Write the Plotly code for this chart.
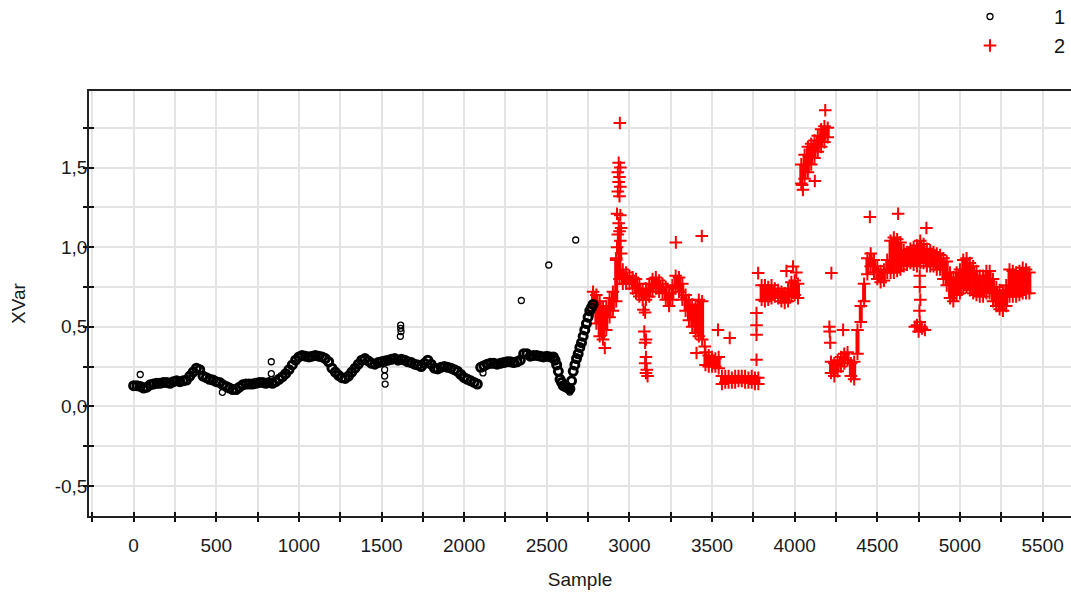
import plotly.graph_objects as go

# ---------------- data ----------------
# Series 1: band readings every 20 samples starting at 0
s1_start = 0
s1_step = 20
s1_values = [
    0.13, 0.13, 0.125, 0.115, 0.12, 0.135, 0.14, 0.145, 0.145, 0.15,
    0.15, 0.145, 0.155, 0.16, 0.155, 0.16, 0.165, 0.19, 0.215, 0.24,
    0.23, 0.19, 0.18, 0.17, 0.165, 0.155, 0.15, 0.135, 0.125, 0.115,
    0.105, 0.105, 0.12, 0.135, 0.14, 0.14, 0.14, 0.145, 0.15, 0.15,
    0.145, 0.15, 0.145, 0.155, 0.17, 0.185, 0.205, 0.23, 0.26, 0.29,
    0.31, 0.32, 0.315, 0.31, 0.315, 0.32, 0.315, 0.31, 0.30, 0.28,
    0.24, 0.215, 0.195, 0.18, 0.175, 0.19, 0.215, 0.24, 0.265, 0.29,
    0.30, 0.285, 0.27, 0.265, 0.275, 0.28, 0.285, 0.29, 0.295, 0.30,
    0.29, 0.295, 0.29, 0.28, 0.275, 0.265, 0.26, 0.25, 0.27, 0.29,
    0.265, 0.24, 0.235, 0.245, 0.25, 0.245, 0.24, 0.23, 0.22, 0.20,
    0.18, 0.17, 0.16, 0.15, 0.14, 0.245, 0.255, 0.265, 0.27, 0.27,
    0.265, 0.27, 0.275, 0.28, 0.28, 0.275, 0.28, 0.29, 0.33, 0.33,
    0.315, 0.32, 0.32, 0.315, 0.31, 0.315, 0.31, 0.31, 0.26, 0.17,
    0.13, 0.12, 0.11, 0.22, 0.30, 0.37, 0.44, 0.52, 0.60, 0.64,
]
# Series 1: extra readings in the steep stretches (between the 20-sample readings)
s1_steep_x = [2550, 2570, 2590, 2610, 2630, 2650, 2670, 2690, 2710, 2730, 2750, 2770]
s1_steep_y = [0.29, 0.22, 0.15, 0.125, 0.115, 0.16, 0.26, 0.33, 0.40, 0.48, 0.56, 0.62]
# Series 1: isolated points
s1_out_x = [40, 537, 833, 833, 1616, 1616, 1618, 1614, 1519, 1519, 1522, 2114, 2346, 2512, 2675, 2639]
s1_out_y = [0.20, 0.088, 0.28, 0.205, 0.51, 0.49, 0.47, 0.44, 0.23, 0.19, 0.14, 0.21, 0.665, 0.888, 1.045, 0.09]

# Series 2: upper / lower edge of the dense band every 20 samples from 2780
s2_start = 2780
s2_step = 20
s2_hi = [
    0.72, 0.70, 0.66, 0.62, 0.63, 0.68, 0.72, 0.92, 1.10, 0.86,
    0.84, 0.82, 0.81, 0.80, 0.77, 0.73, 0.74, 0.77, 0.80, 0.81,
    0.79, 0.77, 0.75, 0.71, 0.76, 0.82, 0.81, 0.77, 0.70, 0.67,
    0.64, 0.63, 0.67, 0.66, 0.34, 0.32, 0.31, 0.30, 0.31, 0.19,
    0.19, 0.19, 0.18, 0.19, 0.19, 0.19, 0.19, 0.18, 0.19, 0.18,
    0.18, 0.76, 0.76, 0.75, 0.76, 0.74, 0.73, 0.72, 0.71, 0.74,
    0.78, 0.79, 0.77, 1.52, 1.58, 1.63, 1.65, 1.67, 1.70, 1.74,
    1.76, 1.75, 0.28, 0.27, 0.29, 0.31, 0.33, 0.34, 0.27, 0.28,
    0.48, 0.63, 0.77, 0.93, 0.96, 0.92, 0.88, 0.85, 0.86, 0.92,
    1.04, 1.06, 1.05, 1.03, 0.98, 0.97, 0.99, 1.00, 1.01, 1.04,
    1.02, 0.99, 0.98, 0.97, 0.96, 0.95, 0.93, 0.91, 0.84, 0.81,
    0.84, 0.86, 0.92, 0.93, 0.90, 0.88, 0.85, 0.82, 0.82, 0.85,
    0.85, 0.80, 0.75, 0.73, 0.72, 0.76, 0.86, 0.85, 0.84, 0.85,
    0.87, 0.86, 0.84,
]
s2_lo = [
    0.60, 0.52, 0.44, 0.42, 0.48, 0.56, 0.60, 0.66, 0.80, 0.77,
    0.77, 0.77, 0.74, 0.71, 0.69, 0.67, 0.67, 0.69, 0.72, 0.74,
    0.72, 0.71, 0.67, 0.63, 0.67, 0.74, 0.72, 0.67, 0.60, 0.54,
    0.50, 0.46, 0.44, 0.42, 0.26, 0.25, 0.25, 0.25, 0.24, 0.14,
    0.15, 0.15, 0.15, 0.15, 0.16, 0.16, 0.15, 0.15, 0.15, 0.14,
    0.14, 0.67, 0.66, 0.67, 0.68, 0.69, 0.68, 0.66, 0.65, 0.66,
    0.69, 0.70, 0.68, 1.40, 1.43, 1.47, 1.52, 1.56, 1.60, 1.63,
    1.66, 1.69, 0.21, 0.19, 0.22, 0.25, 0.27, 0.29, 0.19, 0.17,
    0.33, 0.53, 0.66, 0.83, 0.88, 0.84, 0.80, 0.78, 0.79, 0.84,
    0.84, 0.84, 0.85, 0.86, 0.88, 0.89, 0.90, 0.89, 0.88, 0.90,
    0.90, 0.88, 0.88, 0.88, 0.86, 0.86, 0.80, 0.76, 0.68, 0.66,
    0.70, 0.71, 0.74, 0.75, 0.73, 0.71, 0.70, 0.69, 0.69, 0.71,
    0.71, 0.66, 0.63, 0.61, 0.60, 0.63, 0.69, 0.69, 0.69, 0.70,
    0.71, 0.71, 0.71,
]
# Series 2: isolated points / spikes
s2_out_x = [2942, 2935, 2945, 2930, 2940, 2935, 2945, 2930, 2940, 2925, 2945, 2935, 2950, 2930, 2945, 2925, 2950, 2920,
            2851,
            3085, 3095, 3090, 3100, 3095, 3100, 3095, 3105, 3100, 3110,
            3281, 3438, 3536, 3607, 3406, 3456,
            3769, 3769, 3769, 3769, 3779, 3950, 3990, 4010,
            4185, 4050, 4045, 4122, 4222,
            4210, 4212, 4215, 4293,
            4455, 4626, 4797,
            4757, 4757, 4760, 4755, 4727, 4740, 4757, 4770, 4788, 4750, 4765]
s2_out_y = [1.78, 1.53, 1.50, 1.47, 1.44, 1.41, 1.38, 1.35, 1.32, 1.21, 1.20, 1.15, 1.12, 1.08, 1.04, 1.00, 0.96, 0.93,
            0.366,
            0.607, 0.59, 0.47, 0.42, 0.40, 0.31, 0.27, 0.23, 0.21, 0.19,
            1.03, 1.07, 0.48, 0.43, 0.335, 0.376,
            0.586, 0.51, 0.45, 0.293, 0.837, 0.85, 0.878, 0.84,
            1.86, 1.36, 1.39, 1.416, 0.837,
            0.50, 0.47, 0.40, 0.48,
            1.19, 1.21, 1.12,
            0.82, 0.75, 0.67, 0.60, 0.50, 0.51, 0.53, 0.49, 0.48, 0.47, 0.50]

x_ticks = [0, 500, 1000, 1500, 2000, 2500, 3000, 3500, 4000, 4500, 5000, 5500]
y_tickvals = [-0.5, 0.0, 0.5, 1.0, 1.5]
y_ticktext = ["-0,5", "0,0", "0,5", "1,0", "1,5"]
y_minor = [-0.25, 0.25, 0.75, 1.25, 1.75]

# ---------------- build ----------------
s1_x = [s1_start + i * s1_step for i in range(len(s1_values))]
s2_x = [s2_start + i * s2_step for i in range(len(s2_hi))]

BLACK = "#000000"
RED = "#ff0000"
GRID = "#e4e4e4"

fig = go.Figure()

# dense band of series 2 (vertical spread between lower and upper edge)
band_x, band_y = [], []
for xv, lo, hi in zip(s2_x, s2_lo, s2_hi):
    band_x += [xv, xv, None]
    band_y += [lo, hi, None]
fig.add_trace(go.Scatter(x=band_x, y=band_y, mode="lines",
                         line=dict(color=RED, width=4), showlegend=False, hoverinfo="skip"))

red_marker = dict(symbol="cross-thin", size=9, line=dict(color=RED, width=2), color=RED)
fig.add_trace(go.Scatter(x=s2_x + s2_x + s2_out_x, y=s2_hi + s2_lo + s2_out_y, mode="markers",
                         marker=red_marker, name="2", legendrank=2))

# dense band of series 1 (overlapping rings make a solid band)
fig.add_trace(go.Scatter(x=s1_x + s1_steep_x, y=s1_values + s1_steep_y, mode="markers",
                         marker=dict(symbol="circle-open", size=8, line=dict(color=BLACK, width=3), color=BLACK),
                         showlegend=False, hoverinfo="skip"))
fig.add_trace(go.Scatter(x=s1_out_x, y=s1_out_y, mode="markers",
                         marker=dict(symbol="circle-open", size=6, line=dict(color=BLACK, width=1.3), color=BLACK),
                         name="1", legendrank=1))

# dummy trace for the inner half of the crossing ticks
fig.add_trace(go.Scatter(x=[None], y=[None], xaxis="x2", yaxis="y2", showlegend=False, hoverinfo="skip"))

FONT = "Liberation Sans"
W, H = 1071, 593
L, T, B, R = 89, 91, 77, 0
PH = H - T - B

fig.update_layout(
    width=W, height=H,
    margin=dict(l=L, r=R, t=T, b=B, autoexpand=False),
    paper_bgcolor="white", plot_bgcolor="white",
    font=dict(family=FONT, size=19, color="#1a1a1a"),
    showlegend=True,
    legend=dict(x=1.0, xanchor="right", y=1 + (T + 3) / PH, yanchor="top",
                font=dict(size=20, color="#111"), itemwidth=118, bgcolor="rgba(0,0,0,0)",
                traceorder="normal"),
    xaxis=dict(range=[-270, 5672], tickvals=x_ticks, ticks="outside", ticklen=4, tickwidth=1.5,
               tickcolor="#111", showline=True, linecolor="#222", linewidth=1.5, mirror=True,
               showgrid=True, gridcolor=GRID, gridwidth=1.5, zeroline=False,
               minor=dict(dtick=250, tick0=0, ticks="outside", ticklen=4, tickwidth=1.5, tickcolor="#111",
                          showgrid=True, gridcolor=GRID, gridwidth=1.5),
               title=dict(text="Sample", font=dict(size=19), standoff=18),
               ticklabelstandoff=7),
    yaxis=dict(range=[-0.689, 1.981], tickvals=y_tickvals, ticktext=y_ticktext, ticks="outside",
               ticklen=4, tickwidth=1.5, tickcolor="#111", showline=True, linecolor="#222", linewidth=1.5,
               showgrid=True, gridcolor=GRID, gridwidth=1.5, zeroline=False,
               minor=dict(tickvals=y_minor, ticks="outside", ticklen=4, tickwidth=1.5, tickcolor="#111",
                          showgrid=True, gridcolor=GRID, gridwidth=1.5),
               title=dict(text="XVar", font=dict(size=19), standoff=24),
               ticklabelstandoff=-8),
    xaxis2=dict(overlaying="x", matches="x", anchor="y2", side="bottom", tickvals=x_ticks,
                ticks="inside", ticklen=4, tickwidth=1.5, tickcolor="#111", showticklabels=False,
                showgrid=False, zeroline=False, showline=False,
                minor=dict(dtick=250, tick0=0, ticks="inside", ticklen=4, tickwidth=1.5, tickcolor="#111",
                           showgrid=False)),
    yaxis2=dict(overlaying="y", matches="y", anchor="x2", side="left", tickvals=y_tickvals,
                ticks="inside", ticklen=5, tickwidth=1.5, tickcolor="#111", showticklabels=False,
                showgrid=False, zeroline=False, showline=False,
                minor=dict(tickvals=y_minor, ticks="inside", ticklen=5, tickwidth=1.5, tickcolor="#111",
                           showgrid=False)),
)

fig.write_html("out.html", config={"displayModeBar": False},
               post_script="document.body.style.margin='0px';")
